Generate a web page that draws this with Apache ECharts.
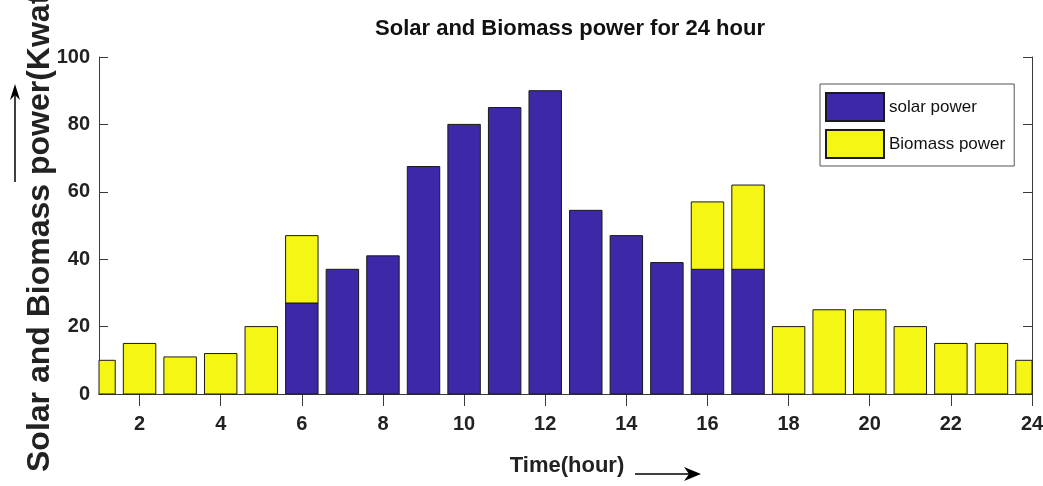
<!DOCTYPE html>
<html>
<head>
<meta charset="utf-8">
<script src="https://cdn.jsdelivr.net/npm/echarts@6/dist/echarts.min.js"></script>
<style>
  html, body { margin: 0; padding: 0; background: #fff; }
  #barChart { width: 1043px; height: 486px; }
</style>
</head>
<body>
<div id="barChart"></div>
<script>
// hours on the x axis
var hours = ['1','2','3','4','5','6','7','8','9','10','11','12','13','14','15','16','17','18','19','20','21','22','23','24'];
// solar part (bottom of stack), null = no bar
var solarPower = [null,null,null,null,null,27,37,41,67.5,80,85,90,54.5,47,39,37,37,null,null,null,null,null,null,null];
// biomass part (stacked on top of solar)
var biomassPower = [10,15,11,12,20,20,null,null,null,null,null,null,null,null,null,20,25,20,25,25,20,15,15,10];
var legendNames = ['solar power', 'Biomass power'];

var fontBold = '"Liberation Sans",Arial,sans-serif';
var axisColor = '#3a3a3a';

// [hourIndex, bottom, top] for each piece of the stack
var solarData = [], biomassData = [];
for (var i = 0; i < hours.length; i++) {
  var s = solarPower[i] == null ? 0 : solarPower[i];
  if (solarPower[i] != null) solarData.push([i, 0, s]);
  if (biomassPower[i] != null) biomassData.push([i, s, s + biomassPower[i]]);
}

// bars drawn by hand so the half bars at hour 1 and 24 get cut at the frame
function renderBar(params, api) {
  var bottom = api.coord([api.value(0), api.value(1)]);
  var top = api.coord([api.value(0), api.value(2)]);
  var w = api.size([1, 0])[0] * 0.8;
  var cs = params.coordSys;
  var shape = echarts.graphic.clipRectByRect(
    { x: bottom[0] - w / 2, y: top[1], width: w, height: bottom[1] - top[1] },
    { x: cs.x, y: cs.y, width: cs.width, height: cs.height }
  );
  return shape && { type: 'rect', shape: shape, style: api.style() };
}

var tickEveryOther = function (i) { return i % 2 === 1; };

var chart = echarts.init(document.getElementById('barChart'));
chart.setOption({
  animation: false,
  backgroundColor: '#fff',
  title: {
    text: 'Solar and Biomass power for 24 hour',
    left: 565,
    textAlign: 'center',
    top: 13,
    textStyle: { fontFamily: fontBold, fontWeight: 'bold', fontSize: 22, color: '#111' }
  },
  legend: {
    orient: 'vertical',
    left: 820,
    top: 84,
    padding: [8, 9, 7, 5],
    itemWidth: 58,
    itemHeight: 28,
    itemGap: 7,
    backgroundColor: '#fff',
    borderColor: '#555',
    borderWidth: 1,
    borderRadius: 0,
    icon: 'rect',
    textStyle: { fontFamily: fontBold, fontSize: 17, color: '#111' },
    data: legendNames
  },
  grid: {
    left: 99, right: 11, top: 57, bottom: 92,
    containLabel: false,
    outerBoundsMode: 'none'
  },
  xAxis: [
    {
      type: 'category',
      data: hours,
      boundaryGap: false,
      axisLine: { lineStyle: { color: axisColor, width: 1 } },
      axisTick: { inside: true, length: 12, interval: tickEveryOther, lineStyle: { color: axisColor } },
      axisLabel: {
        interval: tickEveryOther,
        margin: 20,
        fontFamily: fontBold, fontWeight: 'bold', fontSize: 20, color: '#222'
      },
      splitLine: { show: false }
    },
    {
      // top frame line
      type: 'category',
      position: 'top',
      data: hours,
      boundaryGap: false,
      axisLine: { lineStyle: { color: axisColor, width: 1 } },
      axisTick: { inside: true, length: 12, interval: tickEveryOther, lineStyle: { color: axisColor } },
      axisLabel: { show: false },
      splitLine: { show: false }
    }
  ],
  yAxis: [
    {
      type: 'value',
      min: 0, max: 100, interval: 20,
      axisLine: { show: true, lineStyle: { color: axisColor, width: 1 } },
      axisTick: { show: true, inside: true, length: 9, lineStyle: { color: axisColor } },
      axisLabel: { margin: 9, fontFamily: fontBold, fontWeight: 'bold', fontSize: 20, color: '#222' },
      splitLine: { show: false }
    },
    {
      // right frame line
      type: 'value',
      position: 'right',
      min: 0, max: 100, interval: 20,
      axisLine: { show: true, lineStyle: { color: axisColor, width: 1 } },
      axisTick: { show: true, inside: true, length: 9, lineStyle: { color: axisColor } },
      axisLabel: { show: false },
      splitLine: { show: false }
    }
  ],
  series: [
    {
      name: legendNames[0],
      type: 'custom',
      renderItem: renderBar,
      encode: { x: 0, y: [1, 2] },
      itemStyle: { color: '#3d29a8', borderColor: '#1a1a1a', borderWidth: 1 },
      data: solarData
    },
    {
      name: legendNames[1],
      type: 'custom',
      renderItem: renderBar,
      encode: { x: 0, y: [1, 2] },
      itemStyle: { color: '#f6f614', borderColor: '#1a1a1a', borderWidth: 1 },
      data: biomassData
    }
  ],
  graphic: [
    // y axis name, runs off the top like the original
    {
      type: 'text',
      x: 40, y: 472,
      rotation: Math.PI / 2,
      style: {
        text: 'Solar and Biomass power(Kwatt)',
        fontFamily: fontBold,
        fontWeight: 'bold', fontSize: 32, fill: '#222',
        textAlign: 'left', textVerticalAlign: 'middle'
      }
    },
    // arrow next to y name
    { type: 'line', shape: { x1: 15, y1: 182, x2: 15, y2: 92 }, style: { stroke: '#000', lineWidth: 1.5 } },
    { type: 'polygon', shape: { points: [[15, 84], [10, 100], [15, 95], [20, 100]] }, style: { fill: '#000' } },
    // x axis name
    {
      type: 'text',
      x: 567, y: 466,
      style: {
        text: 'Time(hour)',
        fontFamily: fontBold, fontWeight: 'bold', fontSize: 22, fill: '#222',
        textAlign: 'center', textVerticalAlign: 'middle'
      }
    },
    { type: 'line', shape: { x1: 635, y1: 474, x2: 692, y2: 474 }, style: { stroke: '#000', lineWidth: 1.5 } },
    { type: 'polygon', shape: { points: [[701, 474], [684, 467], [689, 474], [684, 481]] }, style: { fill: '#000' } }
  ]
});
</script>
</body>
</html>
